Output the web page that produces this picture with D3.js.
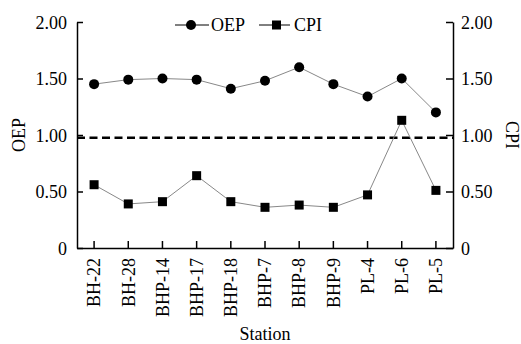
<!DOCTYPE html>
<html>
<head>
<meta charset="utf-8">
<script src="https://cdn.jsdelivr.net/npm/d3@7"></script>
<style>
  body { margin: 0; background: #fff; }
</style>
</head>
<body>
<div id="chart"></div>
<script>
// values
const stations = ["BH-22", "BH-28", "BHP-14", "BHP-17", "BHP-18", "BHP-7", "BHP-8", "BHP-9", "PL-4", "PL-6", "PL-5"];
const oep = [1.45, 1.49, 1.50, 1.49, 1.41, 1.48, 1.60, 1.45, 1.34, 1.50, 1.20];
const cpi = [0.56, 0.39, 0.41, 0.64, 0.41, 0.36, 0.38, 0.36, 0.47, 1.13, 0.51];
const yTicks = [0, 0.5, 1.0, 1.5, 2.0];
const refLine = 0.975;

const fontName = "Liberation Serif";
const width = 521, height = 344;
const margin = { top: 22, right: 68, bottom: 96, left: 77 };
const innerW = width - margin.left - margin.right,
    innerH = height - margin.top - margin.bottom;

const svg = d3.select("#chart")
    .append("svg")
    .attr("width", width)
    .attr("height", height);

const g = svg.append("g")
    .attr("transform", "translate(" + margin.left + "," + margin.top + ")");

const xScale = d3.scaleBand().domain(stations).range([0, innerW]);
const yScale = d3.scaleLinear().domain([0, 2]).range([innerH, 0]);
const cx = (d) => xScale(d) + xScale.bandwidth() / 2;
const fmt = (d) => d === 0 ? "0" : d3.format(".2f")(d);

// left axis
g.append("g")
    .call(d3.axisLeft(yScale).tickValues(yTicks).tickFormat(fmt)
        .tickSizeInner(-6).tickSizeOuter(0).tickPadding(10))
    .call(a => a.selectAll("text").attr("dy", "0.35em"));

// right axis
g.append("g")
    .attr("transform", "translate(" + innerW + ",0)")
    .call(d3.axisRight(yScale).tickValues(yTicks).tickFormat(fmt)
        .tickSizeInner(-7).tickSizeOuter(0).tickPadding(8))
    .call(a => a.selectAll("text").attr("dy", "0.35em"));

// bottom axis
g.append("g")
    .attr("transform", "translate(0," + innerH + ")")
    .call(d3.axisBottom(xScale).tickSizeInner(-7).tickSizeOuter(0))
    .selectAll("text")
    .attr("text-anchor", "end")
    .attr("transform", "rotate(-90)")
    .attr("x", -10)
    .attr("y", 0)
    .attr("dy", "0.35em");

g.selectAll(".domain, .tick line").attr("stroke", "#000").attr("stroke-width", 1.5);

// axis titles
svg.append("text")
    .attr("transform", "translate(25," + (margin.top + yScale(1)) + ") rotate(-90)")
    .attr("text-anchor", "middle")
    .text("OEP");

svg.append("text")
    .attr("transform", "translate(506," + (margin.top + yScale(1)) + ") rotate(90)")
    .attr("text-anchor", "middle")
    .text("CPI");

svg.append("text")
    .attr("x", margin.left + innerW / 2)
    .attr("y", 340)
    .attr("text-anchor", "middle")
    .text("Station");

// dashed reference line
g.append("line")
    .attr("x1", 0)
    .attr("x2", innerW)
    .attr("y1", yScale(refLine))
    .attr("y2", yScale(refLine))
    .attr("stroke", "#000")
    .attr("stroke-width", 2.5)
    .attr("stroke-dasharray", "8,4.5");

const line = d3.line().x((d, i) => cx(stations[i])).y((d) => yScale(d));

g.append("path").datum(oep)
    .attr("d", line)
    .attr("fill", "none")
    .attr("stroke", "#888")
    .attr("stroke-width", 1);

g.append("path").datum(cpi)
    .attr("d", line)
    .attr("fill", "none")
    .attr("stroke", "#888")
    .attr("stroke-width", 1);

g.selectAll(".oep")
    .data(oep)
    .enter().append("circle")
    .attr("class", "oep")
    .attr("cx", (d, i) => cx(stations[i]))
    .attr("cy", (d) => yScale(d))
    .attr("r", 5)
    .attr("fill", "#000");

g.selectAll(".cpi")
    .data(cpi)
    .enter().append("rect")
    .attr("class", "cpi")
    .attr("x", (d, i) => cx(stations[i]) - 4.5)
    .attr("y", (d) => yScale(d) - 4.5)
    .attr("width", 9)
    .attr("height", 9)
    .attr("fill", "#000");

// legend
const legend = svg.append("g").attr("transform", "translate(175,25)");
legend.append("line").attr("x1", 0).attr("x2", 34).attr("stroke", "#000").attr("stroke-width", 1);
legend.append("circle").attr("cx", 16).attr("r", 5).attr("fill", "#000");
legend.append("text").attr("x", 36).attr("dy", "0.35em").text("OEP");
legend.append("line").attr("x1", 84).attr("x2", 115).attr("stroke", "#000").attr("stroke-width", 1);
legend.append("rect").attr("x", 97).attr("y", -4.5).attr("width", 9).attr("height", 9).attr("fill", "#000");
legend.append("text").attr("x", 119).attr("dy", "0.35em").text("CPI");

// same font on every text
svg.selectAll("text")
    .attr("font-family", fontName)
    .attr("font-size", 18)
    .attr("fill", "#000");
</script>
</body>
</html>
